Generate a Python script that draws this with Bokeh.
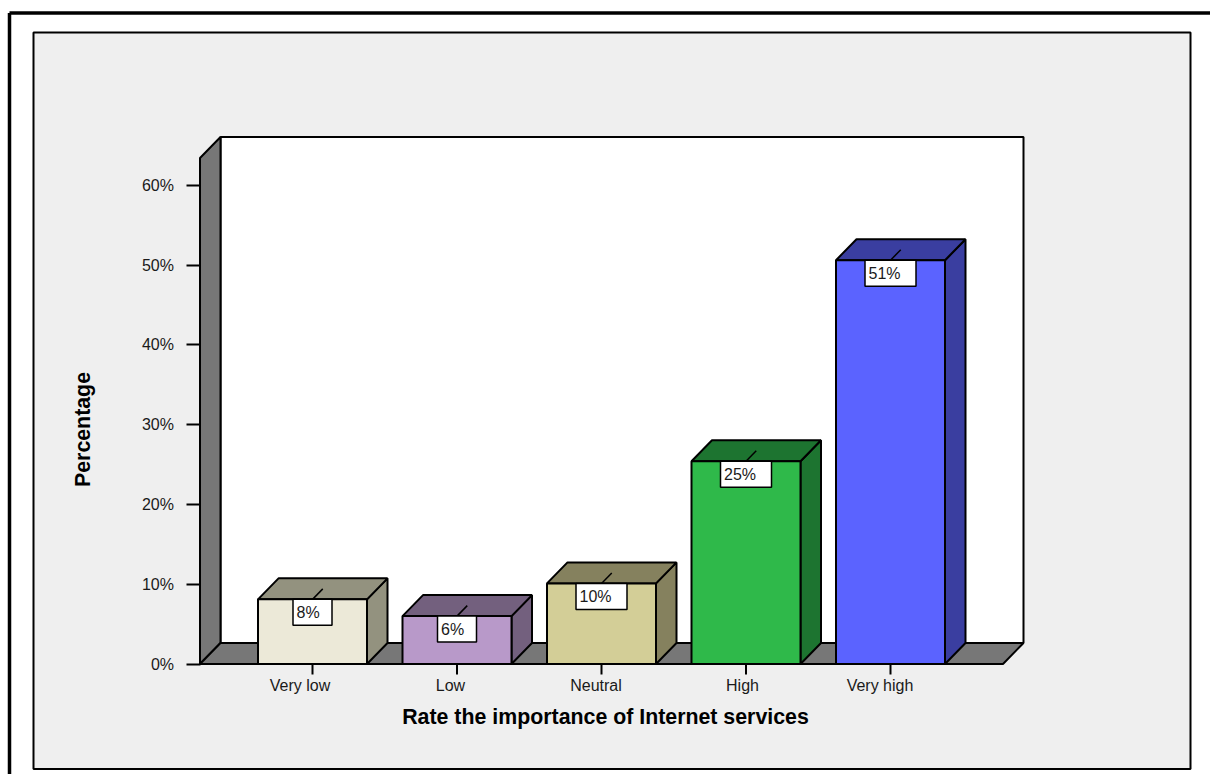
from bokeh.core.properties import value
from bokeh.embed import file_html
from bokeh.models import FixedTicker, LinearAxis, Range1d
from bokeh.plotting import figure
from bokeh.resources import INLINE

categories = ["Very low", "Low", "Neutral", "High", "Very high"]
percentages = [8.1, 6.0, 10.1, 25.4, 50.6]
y_ticks = [0, 10, 20, 30, 40, 50, 60]
face_colors = ["#ECE9D8", "#B899C9", "#D3CE97", "#2FB94A", "#5B63FF"]
top_colors = ["#93927F", "#73607E", "#85815E", "#1D7430", "#3A3EA0"]

WIDTH, HEIGHT = 1210, 774
X0, X_STEP = 312.0, 144.5      # pixel position of the first category and its spacing
Y0, Y_STEP = 663.5, 7.98       # pixel position of 0% and pixels per percent


def sx(px):
    return (px - X0) / X_STEP


def sy(py):
    return (Y0 - py) / Y_STEP


DX, DY = 20.5 / X_STEP, 21.0 / Y_STEP   # oblique depth of the 3D box
HALF = 54.5 / X_STEP                    # half bar width
LEFT, RIGHT = sx(199.5), sx(1002.5)     # front edges of the floor
TOP = sy(157.5)                         # front top of the side wall
INK = "#000000"
FONT = "Liberation Sans"

p = figure(
    width=WIDTH, height=HEIGHT, output_backend="svg", toolbar_location=None,
    x_range=Range1d(sx(0), sx(WIDTH)), y_range=Range1d(sy(HEIGHT), sy(0)),
    min_border=0, outline_line_color=None, background_fill_color="#FFFFFF",
    border_fill_color="#FFFFFF", x_axis_type=None, y_axis_type=None,
)
p.xgrid.visible = False
p.ygrid.visible = False

# page frame and grey chart panel
p.line([sx(9), sx(9)], [sy(HEIGHT), sy(12.5)], line_color=INK, line_width=3.5)
p.line([sx(9), sx(WIDTH)], [sy(12.5), sy(12.5)], line_color=INK, line_width=3.5)
p.quad(left=sx(33), right=sx(1190), top=sy(32), bottom=sy(768.5),
       fill_color="#EFEFEF", line_color=INK, line_width=2)

# back wall, side wall and floor of the box
p.quad(left=LEFT + DX, right=RIGHT + DX, bottom=DY, top=TOP + DY,
       fill_color="#FFFFFF", line_color=INK, line_width=2)
p.patch([LEFT, LEFT + DX, LEFT + DX, LEFT], [0, DY, TOP + DY, TOP],
        fill_color="#777777", line_color=INK, line_width=2)
p.patch([LEFT, LEFT + DX, RIGHT + DX, RIGHT], [0, DY, DY, 0],
        fill_color="#777777", line_color=INK, line_width=2)

# bars: right side and top in the darker shade, then the front face
for i, v in enumerate(percentages):
    l, r = i - HALF, i + HALF
    p.patch([r, r + DX, r + DX, r], [0, DY, v + DY, v],
            fill_color=top_colors[i], line_color=INK, line_width=2)
    p.patch([l, l + DX, r + DX, r], [v, v + DY, v + DY, v],
            fill_color=top_colors[i], line_color=INK, line_width=2)
    p.quad(left=l, right=r, bottom=0, top=v,
           fill_color=face_colors[i], line_color=INK, line_width=2)

# value labels: a leader on the top face and a white box hanging below the front edge
BOX_H = 26 / Y_STEP
for i, v in enumerate(percentages):
    text = f"{round(v)}%"
    half_w = (25.5 if len(text) == 3 else 19.5) / X_STEP
    p.line([i, i + DX / 2], [v, v + DY / 2], line_color=INK, line_width=1.5)
    p.quad(left=i - half_w, right=i + half_w, top=v, bottom=v - BOX_H,
           fill_color="#FFFFFF", line_color=INK, line_width=1.5)
    p.text(x=[i - half_w + 3.5 / X_STEP], y=[v - BOX_H / 2], text=[text],
           text_font_size="12pt", text_baseline="middle", text_align="left",
           text_color="#1A1A1A", text_font=value(FONT))

# percentage axis: ticks and labels sit left of the wall
y_axis = LinearAxis(fixed_location=LEFT, ticker=FixedTicker(ticks=y_ticks), bounds=(0, 60))
y_axis.axis_line_color = None
y_axis.minor_tick_line_color = None
y_axis.major_tick_line_color = INK
y_axis.major_tick_line_width = 2
y_axis.major_tick_out = 14
y_axis.major_tick_in = 0
y_axis.major_label_standoff = 12
y_axis.major_label_overrides = {t: f"{t}%" for t in y_ticks}
y_axis.major_label_text_font = FONT
y_axis.major_label_text_font_size = "12pt"
y_axis.major_label_text_color = "#1A1A1A"
p.add_layout(y_axis, "left")

# a second, tickless axis carries the vertical title
y_title = LinearAxis(fixed_location=LEFT, ticker=FixedTicker(ticks=[]), bounds=(0, sy(194)))
y_title.axis_line_color = None
y_title.axis_label = "Percentage"
y_title.axis_label_standoff = 106
y_title.axis_label_text_font = FONT
y_title.axis_label_text_font_style = "bold"
y_title.axis_label_text_font_size = "16pt"
y_title.axis_label_text_color = INK
p.add_layout(y_title, "left")

# category axis without tick marks: names sit slightly left of the bar centres
label_shift = [-12.5, -6.5, -5.5, -3.5, -10.5]
label_pos = [i + s / X_STEP for i, s in enumerate(label_shift)]
x_axis = LinearAxis(fixed_location=0, ticker=FixedTicker(ticks=label_pos))
x_axis.axis_line_color = None
x_axis.minor_tick_line_color = None
x_axis.major_tick_line_color = None
x_axis.major_tick_out = 0
x_axis.major_tick_in = 0
x_axis.major_label_standoff = 13
x_axis.major_label_overrides = dict(zip(label_pos, categories))
x_axis.major_label_text_font = FONT
x_axis.major_label_text_font_size = "12pt"
x_axis.major_label_text_color = "#1A1A1A"
x_axis.axis_label = "Rate the importance of Internet services"
x_axis.axis_label_standoff = 7
x_axis.axis_label_text_font = FONT
x_axis.axis_label_text_font_style = "bold"
x_axis.axis_label_text_font_size = "16pt"
x_axis.axis_label_text_color = INK
p.add_layout(x_axis, "below")

# tick marks under each bar
x_ticks = list(range(len(categories)))
p.segment(x0=x_ticks, x1=x_ticks, y0=[0] * 5, y1=[sy(674)] * 5, line_color=INK, line_width=2)

open("out.html", "w").write(file_html(p, INLINE))
